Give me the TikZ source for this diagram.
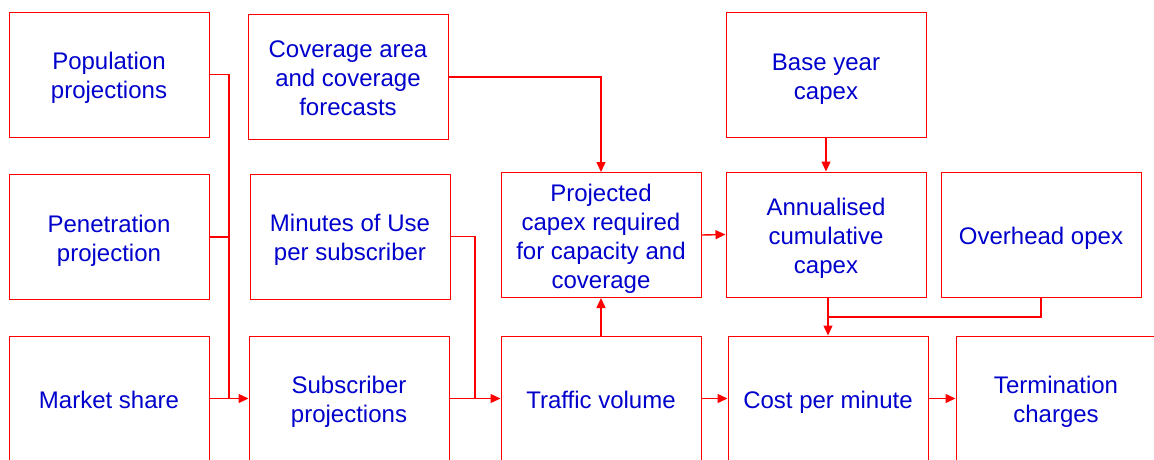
\documentclass[tikz,border=0pt]{standalone}
\usepackage{fontspec}
\setmainfont{Liberation Sans}
\usetikzlibrary{arrows.meta}
\definecolor{boxred}{RGB}{255,0,0}
\definecolor{textblue}{RGB}{0,0,205}
% centred lines of a box, with extra room above so they sit a little low
\newcommand\boxlines[1]{\raisebox{0pt}[\dimexpr\height+8pt\relax]{\begin{tabular}{@{}c@{}}#1\end{tabular}}}
\tikzset{
  box/.style={draw=boxred, line width=1pt, fill=white, minimum width=200pt,
    minimum height=125pt, inner sep=0pt, text=textblue,
    font=\fontsize{24}{29}\selectfont},
  link/.style={draw=boxred, line width=1.4pt},
  arr/.style={link, -{Triangle[length=10pt,width=9pt]}}
}
\begin{document}
\begin{tikzpicture}[x=1pt,y=-1pt]
  \useasboundingbox (0,0) rectangle (1154,459);
  \clip (0,0) rectangle (1154,459);

  % first row
  \node[box] (pop)  at (109,74.5) {\boxlines{Population\\projections}};
  \node[box] (cov)  at (348,77)   {\boxlines{Coverage area\\and coverage\\forecasts}};
  \node[box] (base) at (826,75)   {\boxlines{Base year\\capex}};

  % second row
  \node[box] (pen)  at (109,237)   {\boxlines{Penetration\\projection}};
  \node[box] (mou)  at (350,236.5) {\boxlines{Minutes of Use\\per subscriber}};
  \node[box] (proj) at (601,235)   {\boxlines{Projected\\capex required\\for capacity and\\coverage}};
  \node[box] (ann)  at (826,234.5) {\boxlines{Annualised\\cumulative\\capex}};
  \node[box] (ovh)  at (1041,235)  {\boxlines{Overhead opex}};

  % third row
  \node[box] (mkt)  at (109,398.5)  {\boxlines{Market share}};
  \node[box] (sub)  at (349,398.5)  {\boxlines{Subscriber\\projections}};
  \node[box] (tra)  at (601,398.5)  {\boxlines{Traffic volume}};
  \node[box] (cpm)  at (828,398.5)  {\boxlines{Cost per minute}};
  \node[box] (ter)  at (1056,398.5) {\boxlines{Termination\\charges}};

  % junction points of merging lines
  \coordinate (jsub) at (229,398.5);
  \coordinate (jtra) at (475,398.5);
  \coordinate (jcpm) at (828,317);

  % subscriber inputs
  \draw[link] (pop.east) -| (jsub);
  \draw[link] (pen.east) -| (jsub);
  \draw[arr]  (mkt.east) -- (sub.west);

  % traffic inputs
  \draw[link] (mou.east) -| (jtra);
  \draw[arr]  (sub.east) -- (tra.west);

  % capex chain
  \draw[arr] (cov.east) -| (proj.north);
  \draw[arr] (tra.north) -- (proj.south);
  \draw[arr] (proj.east) -- (ann.west);
  \draw[arr] (base.south) -- (ann.north);

  % cost per minute inputs
  \draw[arr]  (cpm.north |- ann.south) -- (cpm.north);
  \draw[link] (ovh.south) |- (jcpm);
  \draw[arr]  (tra.east) -- (cpm.west);
  \draw[arr]  (cpm.east) -- (ter.west);
\end{tikzpicture}
\end{document}
